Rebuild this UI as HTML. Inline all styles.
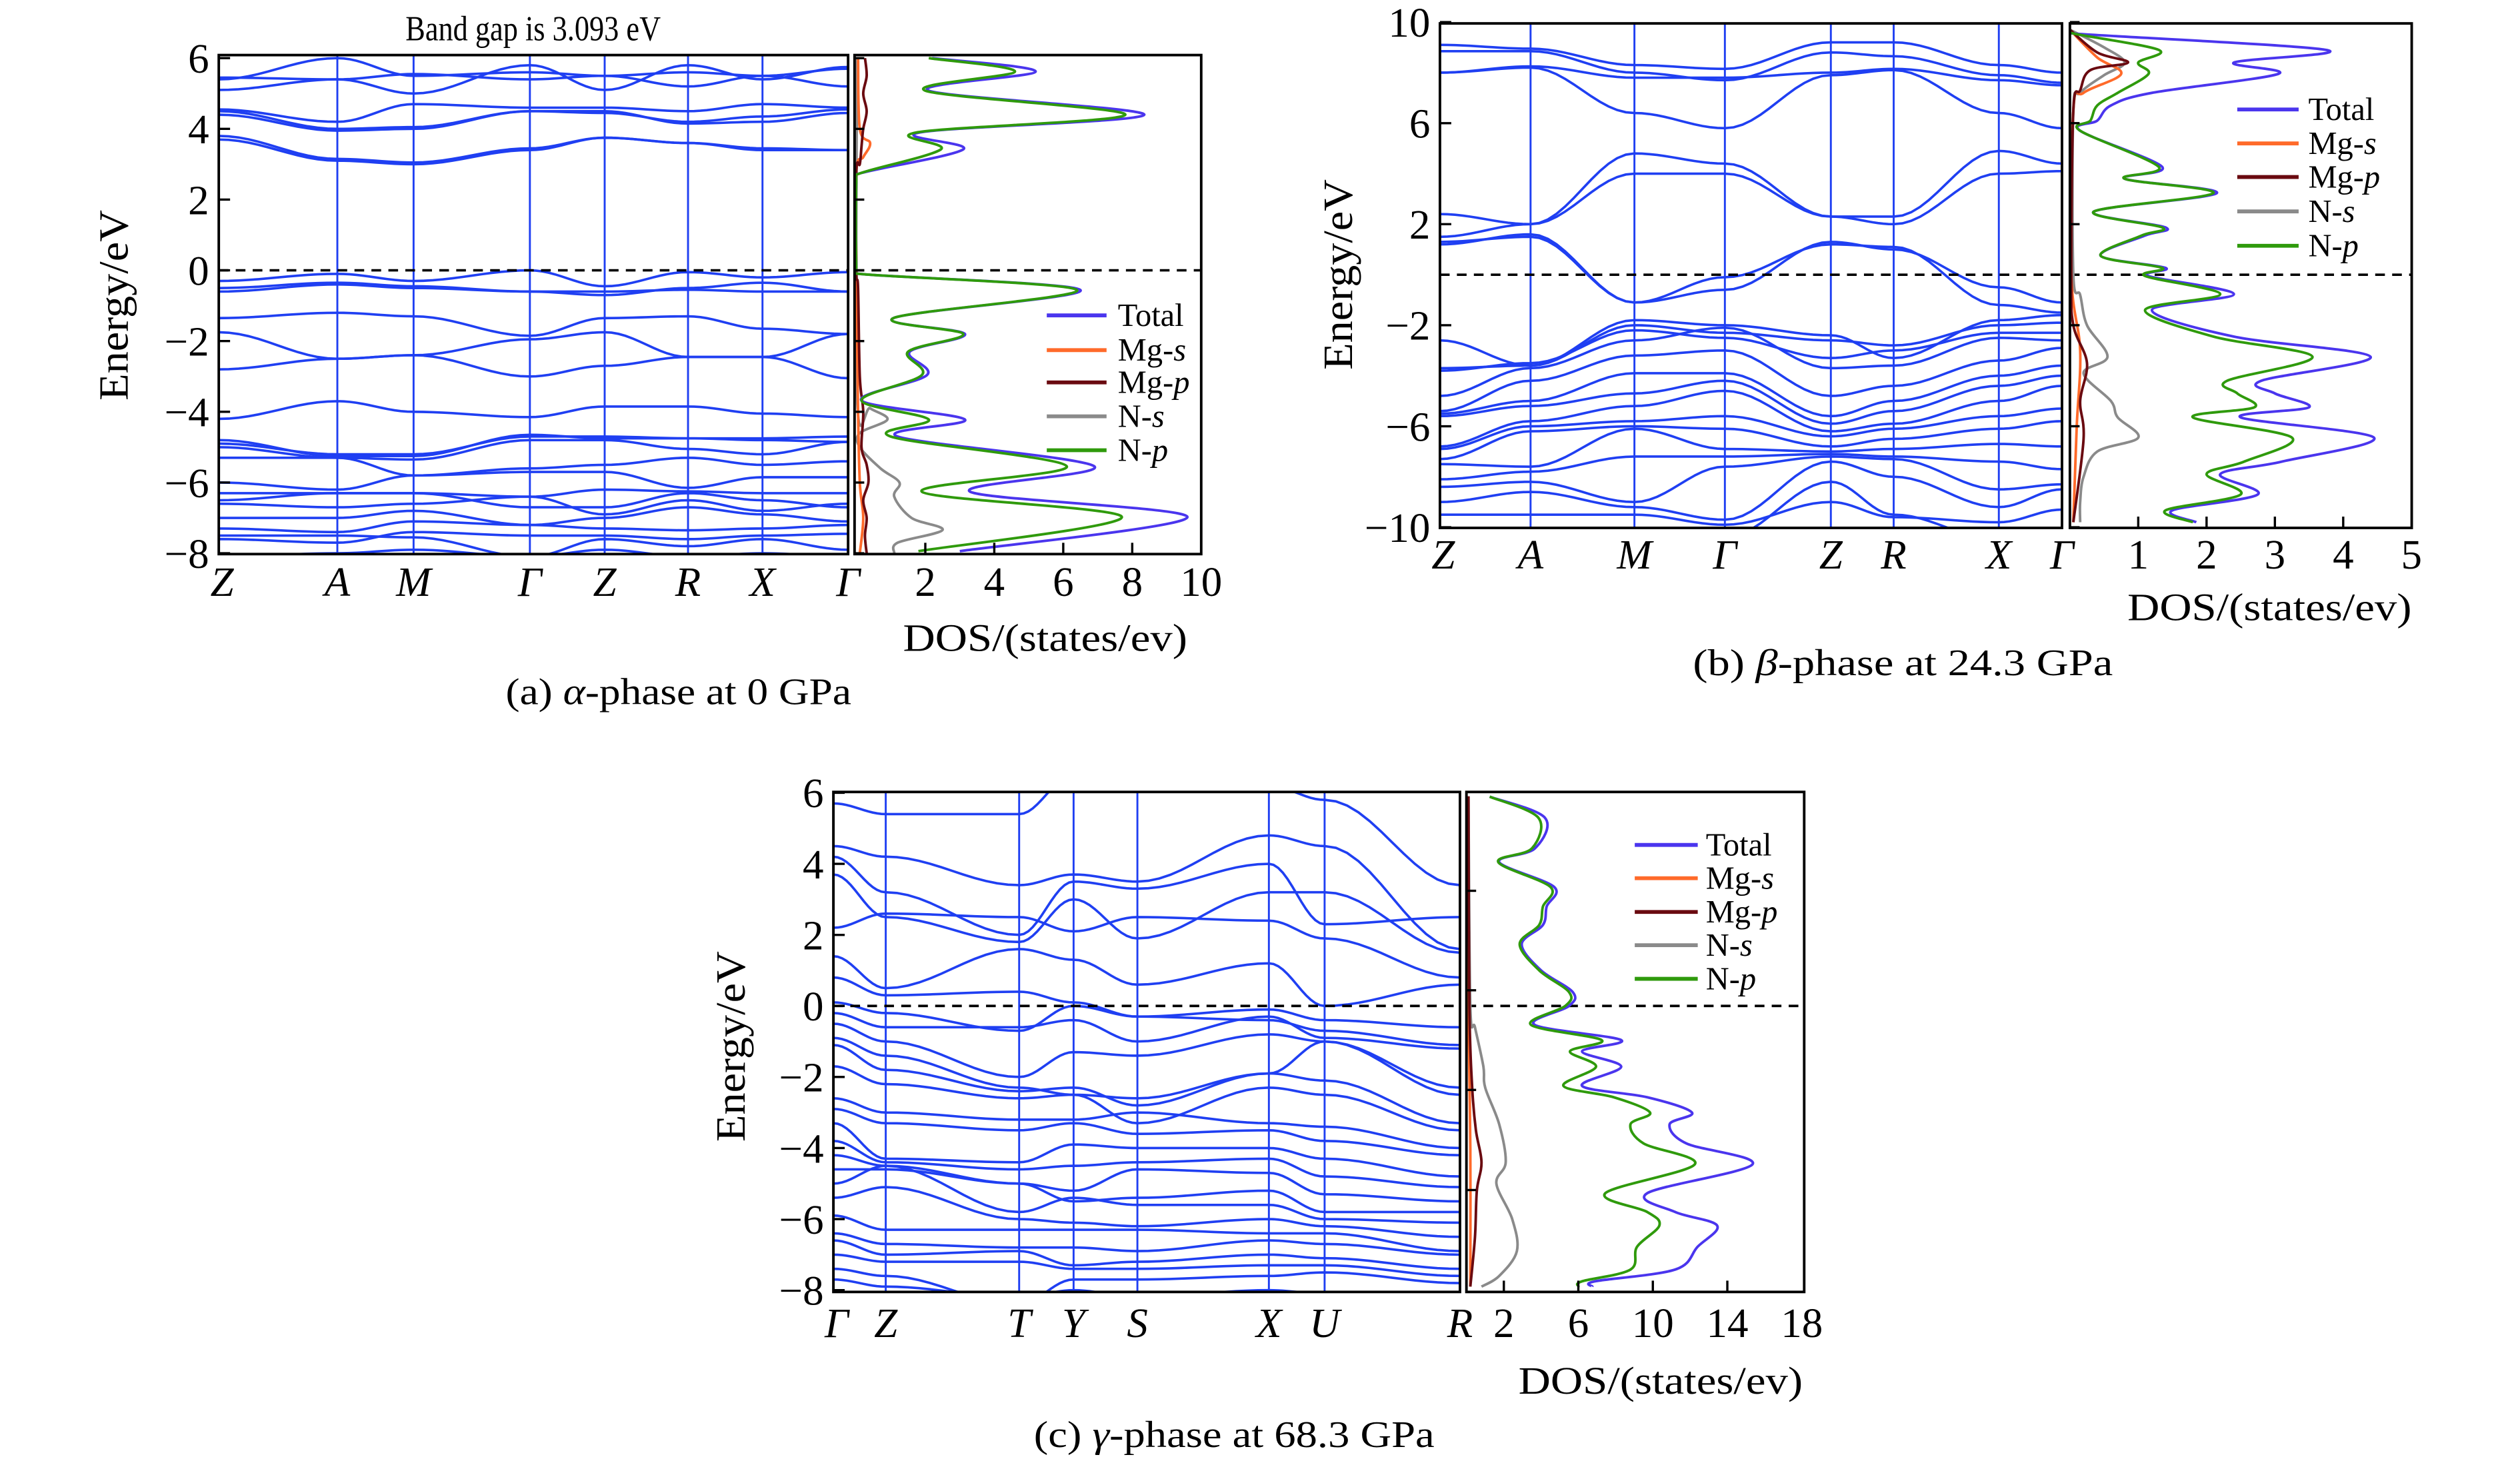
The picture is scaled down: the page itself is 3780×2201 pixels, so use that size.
<!DOCTYPE html>
<html><head><meta charset="utf-8">
<style>
html,body{margin:0;padding:0;background:#fff;}
svg{display:block;}
text{font-family:"Liberation Serif",serif;fill:#000;}
.it{font-style:italic;}
</style></head>
<body>
<svg id="fig" xmlns="http://www.w3.org/2000/svg" width="3780" height="2201" viewBox="0 0 1560 908.4">
<rect x="0" y="0" width="1560" height="908.4" fill="#fff"/>
<defs>
<clipPath id="clipA"><rect x="135.4" y="34.1" width="389.6" height="309"/></clipPath>
<clipPath id="clipAD"><rect x="529" y="34.1" width="214.6" height="309"/></clipPath>
<clipPath id="clipB"><rect x="891.4" y="14.5" width="385.1" height="312.4"/></clipPath>
<clipPath id="clipBD"><rect x="1281.4" y="14.5" width="211.6" height="312.4"/></clipPath>
<clipPath id="clipC"><rect x="515.9" y="490.4" width="387.9" height="309.6"/></clipPath>
<clipPath id="clipCD"><rect x="907.8" y="490.4" width="209.1" height="309.6"/></clipPath>
</defs>
<g id="layer-marks"></g>
<g id="layer-axes"></g>

<text x="330" y="25" font-size="22" text-anchor="middle" textLength="158" lengthAdjust="spacingAndGlyphs">Band gap is 3.093 eV</text>
<text transform="translate(79,189) rotate(-90)" font-size="26" text-anchor="middle" textLength="118" lengthAdjust="spacingAndGlyphs">Energy/eV</text>
<text transform="translate(837,170) rotate(-90)" font-size="26" text-anchor="middle" textLength="118" lengthAdjust="spacingAndGlyphs">Energy/eV</text>
<text transform="translate(461,648) rotate(-90)" font-size="26" text-anchor="middle" textLength="118" lengthAdjust="spacingAndGlyphs">Energy/eV</text>
<text x="647" y="403" font-size="24" text-anchor="middle" textLength="176" lengthAdjust="spacingAndGlyphs">DOS/(states/ev)</text>
<text x="1405" y="384" font-size="24" text-anchor="middle" textLength="176" lengthAdjust="spacingAndGlyphs">DOS/(states/ev)</text>
<text x="1028" y="863" font-size="24" text-anchor="middle" textLength="176" lengthAdjust="spacingAndGlyphs">DOS/(states/ev)</text>
<text x="420" y="436" font-size="23" text-anchor="middle" textLength="214" lengthAdjust="spacingAndGlyphs">(a) <tspan class="it">α</tspan>-phase at 0 GPa</text>
<text x="1178" y="418" font-size="23" text-anchor="middle" textLength="260" lengthAdjust="spacingAndGlyphs">(b) <tspan class="it">β</tspan>-phase at 24.3 GPa</text>
<text x="764" y="896" font-size="23" text-anchor="middle" textLength="248" lengthAdjust="spacingAndGlyphs">(c) <tspan class="it">γ</tspan>-phase at 68.3 GPa</text>
</svg>
<script>
// ---------------- DATA ----------------
const aKLabels = ["Z","A","M","Γ","Z","R","X","Γ"];
const aKPath = [135.4,208.8,256,328,374.3,425.9,472,525];
const aYTicks = [6,4,2,0,-2,-4,-6,-8];
const aDosTicks = [2,4,6,8,10];
const aBands = [
[3.7,3.1,3.0,3.4,3.75,3.6,3.4,3.4],[3.8,3.15,3.05,3.45,3.75,3.6,3.45,3.4],
[4.5,4.0,4.05,4.5,4.5,4.15,4.2,4.45],[4.55,4.2,4.7,4.6,4.6,4.5,4.7,4.6],
[4.4,3.95,4.0,4.5,4.45,4.2,4.35,4.55],[5.45,5.4,5.0,5.8,5.1,5.8,5.4,5.75],
[5.1,5.4,5.55,5.4,5.5,5.2,5.5,5.2],[5.4,6.0,5.5,5.6,5.5,5.6,5.5,5.7],
[-0.3,-0.1,-0.3,0,-0.45,-0.05,-0.2,-0.05],[-0.5,-0.35,-0.45,-0.6,-0.7,-0.5,-0.35,-0.6],
[-0.6,-0.4,-0.5,-0.6,-0.6,-0.55,-0.6,-0.6],[-1.35,-1.2,-1.3,-1.85,-1.35,-1.3,-1.65,-1.8],
[-1.75,-2.5,-2.4,-1.95,-1.75,-2.45,-2.45,-1.8],[-2.8,-2.5,-2.4,-3.0,-2.7,-2.45,-2.45,-3.05],
[-4.2,-3.7,-4.0,-4.15,-3.85,-3.85,-4.05,-4.15],[-4.8,-5.25,-5.25,-4.65,-4.75,-4.75,-4.75,-4.7],
[-4.9,-5.2,-5.2,-4.7,-4.7,-4.75,-4.8,-4.85],[-5.0,-5.3,-5.35,-4.8,-4.8,-5.05,-5.2,-4.85],
[-5.3,-5.3,-5.8,-5.6,-5.5,-5.3,-5.5,-5.4],[-6.0,-6.2,-5.8,-5.7,-5.7,-6.15,-5.85,-5.85],
[-6.3,-6.3,-6.3,-6.4,-6.2,-6.25,-6.3,-6.3],[-6.5,-6.3,-6.3,-6.7,-6.7,-6.3,-6.5,-6.7],
[-6.6,-6.7,-6.6,-6.4,-6.9,-6.5,-6.8,-6.6],[-7.0,-7.0,-6.8,-7.2,-7.0,-6.7,-6.9,-7.1],
[-7.3,-7.4,-7.1,-7.2,-7.3,-7.35,-7.3,-7.2],[-7.6,-7.7,-7.4,-7.5,-7.5,-7.6,-7.5,-7.45],
[-7.5,-7.5,-7.55,-8.1,-7.6,-7.8,-7.6,-7.9],[-8.1,-8.0,-7.9,-8.1,-7.9,-8.1,-8.0,-8.1]
];
const aTotalE = [6.0,5.62,5.08,4.4,3.9,3.42,2.74,2.5,0.1,-0.1,-0.56,-1.34,-1.8,-2.3,-2.96,-3.68,-4.22,-4.7,-5.54,-6.26,-6.98,-7.94];
const aTotalV = [2.2,5.2,2.1,8.35,1.85,3.1,0.1,0.0,0.0,0.1,6.5,1.1,3.15,1.55,2.05,0.15,3.15,1.2,6.9,3.3,9.6,3.0];
const aNpV    = [2.1,4.6,2.0,7.8,1.75,2.45,0.1,0.0,0.0,0.1,6.4,1.1,3.1,1.5,1.9,0.15,2.1,1.0,6.1,1.9,7.7,1.8];
const aNsE = [6,-3.6,-3.9,-4.22,-4.6,-5.0,-5.6,-6.0,-6.4,-7.0,-7.34,-7.7,-8];
const aNsV = [0.02,0.02,0.4,0.9,0.1,0.1,0.7,1.25,1.1,1.6,2.5,1.2,1.1];
const aMgsE = [6,4,3.6,3.2,2.8,0,-4,-6,-7,-8];
const aMgsV = [0.05,0.1,0.4,0.2,0,0,0.05,0.1,0.2,0.1];
const aMgpE = [6,5.5,5,4.5,4,3.5,3,2.8,0,-0.5,-3,-4,-5,-5.5,-6,-6.5,-7,-7.5,-8];
const aMgpV = [0.25,0.3,0.2,0.3,0.2,0.15,0.1,0,0,0.05,0.1,0.2,0.15,0.3,0.35,0.2,0.3,0.25,0.3];

const bKLabels = ["Z","A","M","Γ","Z","R","X","Γ"];
const bKPath = [891.4,947.5,1011.8,1067.8,1133.4,1172.3,1237.4,1276.5];
const bYTicks = [10,6,2,-2,-6,-10];
const bDosTicks = [1,2,3,4,5];
const bBands = [
[9.1,8.95,8.3,8.15,9.2,9.2,8.3,8.0],[8.85,8.85,8.0,7.7,8.8,8.65,7.9,7.6],
[8.0,8.25,7.8,7.8,8.0,8.15,7.7,7.5],[8.0,8.2,6.4,5.8,7.9,8.1,6.4,5.8],
[2.4,2.0,4.8,4.4,2.3,2.3,4.9,4.4],[1.5,2.0,4.0,4.0,2.3,2.0,4.0,4.1],
[1.2,1.6,-1.1,-0.6,1.3,1.0,-0.5,-1.1],[1.3,1.5,-1.1,-0.1,1.2,1.1,-1.2,-1.5],
[-2.6,-3.6,-1.8,-2.0,-2.4,-3.3,-1.8,-1.6],[-3.7,-3.6,-2.0,-2.3,-2.6,-2.8,-2.0,-1.9],
[-3.8,-3.5,-2.2,-2.5,-3.3,-3.0,-2.3,-2.3],[-4.8,-3.7,-2.6,-2.1,-3.7,-3.6,-2.5,-2.6],
[-5.4,-4.2,-3.2,-3.0,-4.8,-4.4,-3.4,-2.9],[-5.5,-5.0,-3.9,-3.9,-5.6,-5.0,-4.0,-3.6],
[-5.6,-5.2,-4.7,-4.2,-5.9,-5.4,-4.4,-4.0],[-6.8,-5.8,-5.2,-4.6,-6.2,-5.9,-5.0,-4.4],
[-6.9,-6.0,-5.8,-5.6,-6.4,-6.1,-5.6,-5.3],[-7.3,-6.2,-6.0,-6.1,-6.8,-6.5,-6.1,-5.8],
[-7.5,-7.6,-6.1,-6.9,-7.0,-6.9,-6.7,-6.8],[-8.1,-7.8,-7.2,-7.2,-7.1,-7.2,-7.4,-7.7],
[-8.4,-8.2,-9.0,-7.6,-7.2,-7.3,-8.5,-8.3],[-9.0,-8.6,-9.2,-9.7,-7.4,-8.0,-9.2,-8.5],
[-9.5,-9.5,-9.5,-9.9,-9.0,-9.6,-9.8,-9.3],[-10.3,-10.2,-10.5,-10.4,-8.2,-9.5,-10.5,-10.1]
];
const bTotalE = [9.7,9.55,8.9,8.4,7.95,7.2,6.7,6.1,5.7,4.27,3.8,3.23,2.5,1.87,1.55,0.75,0.27,-0.05,-0.77,-1.4,-2.45,-3.25,-4.2,-4.7,-5.25,-5.65,-6.45,-7.4,-7.9,-8.7,-9.33,-9.8];
const bTotalV = [0,0.05,3.75,2.4,3.05,1.2,0.6,0.4,0.15,1.35,0.8,2.15,0.35,1.4,1.1,0.45,1.4,1.15,2.4,1.2,2.4,4.4,2.8,3.0,3.5,2.5,4.45,3.1,2.2,2.75,1.5,1.85];
const bNpV    = [0,0.05,1.3,1.0,1.15,0.7,0.4,0.3,0.15,1.3,0.8,2.1,0.35,1.35,1.05,0.45,1.35,1.1,2.2,1.1,2.1,3.55,2.3,2.45,2.7,1.8,3.25,2.55,2.0,2.5,1.4,1.8];
const bNsE = [9.7,9.0,8.4,7.9,7.2,6.5,0,-0.8,-2.0,-3.25,-3.9,-5.0,-5.65,-6.45,-7.0,-8,-9,-9.8];
const bNsV = [0,0.5,0.8,0.5,0.15,0.05,0.05,0.15,0.25,0.55,0.2,0.6,0.7,1.0,0.4,0.2,0.15,0.15];
const bMgsE = [9.7,8.6,7.95,7.2,6.5,0,-3,-6,-9.8];
const bMgsV = [0,0.4,0.75,0.2,0.05,0.02,0.15,0.1,0.05];
const bMgpE = [9.7,8.8,8.4,8.1,7.3,6.5,0,-2,-3.5,-5,-6.5,-9.8];
const bMgpV = [0,0.4,0.85,0.3,0.15,0.05,0.02,0.05,0.25,0.15,0.2,0.05];

const cKLabels = ["Γ","Z","T","Y","S","X","U","R"];
const cKPath = [515.9,548.3,630.9,664.6,704.1,785.5,820,903.8];
const cYTicks = [6,4,2,0,-2,-4,-6,-8];
const cDosTicks = [2,6,10,14,18];
const cBands = [
[5.7,5.4,5.4,6.5,6.6,6.2,5.8,3.4],[4.5,4.2,3.4,3.7,3.5,4.8,4.5,1.6],
[4.2,3.2,2.0,3.5,3.3,4.0,2.3,2.5],[3.7,2.5,1.8,3.0,1.9,3.2,3.2,1.5],
[2.2,2.6,2.5,2.1,2.5,2.4,1.9,0.8],[1.4,0.5,1.6,1.3,0.6,1.2,0.0,0.6],
[0.8,0.3,0.4,0.1,-0.3,-0.1,-0.4,-0.6],[0.1,-0.2,-0.7,0.0,-0.3,-0.4,-0.7,-1.1],
[-0.2,-0.6,-0.6,-0.4,-1.0,-0.3,-0.9,-1.2],[-0.5,-1.0,-2.0,-1.3,-1.4,-0.8,-1.0,-2.3],
[-0.9,-1.4,-2.3,-2.5,-2.6,-1.9,-1.0,-2.5],[-1.1,-1.8,-2.4,-2.3,-2.8,-1.9,-2.1,-3.3],
[-1.7,-2.2,-2.6,-2.5,-3.3,-2.3,-2.5,-3.5],[-2.6,-3.0,-3.2,-3.2,-3.0,-3.3,-3.4,-4.0],
[-2.9,-3.3,-3.5,-3.3,-3.6,-3.5,-3.8,-4.2],[-3.3,-4.3,-4.4,-3.9,-4.0,-4.0,-4.3,-4.8],
[-3.8,-4.4,-4.6,-4.5,-4.4,-4.3,-4.8,-5.1],[-4.2,-4.5,-5.0,-5.2,-4.6,-4.7,-5.3,-5.5],
[-4.6,-4.6,-5.0,-5.5,-5.4,-5.2,-5.8,-5.8],[-5.0,-4.5,-5.8,-5.4,-5.6,-5.6,-6.0,-6.1],
[-5.4,-5.1,-6.0,-6.1,-6.2,-6.0,-6.2,-6.5],[-5.9,-6.3,-6.3,-6.3,-6.3,-6.4,-6.4,-6.9],
[-6.4,-6.7,-6.8,-6.8,-6.9,-6.6,-6.7,-7.0],[-6.6,-7.0,-6.9,-7.3,-7.2,-7.0,-7.1,-7.4],
[-7.0,-7.2,-7.2,-7.4,-7.4,-7.3,-7.3,-7.6],[-7.4,-7.6,-8.4,-7.7,-7.7,-7.6,-7.5,-7.8],
[-7.7,-7.9,-8.2,-8.0,-8.2,-8.0,-8.1,-8.3]
];
const cTotalE = [5.89,5.3,4.43,4.05,3.35,2.8,2.28,1.74,1.0,0.39,0,-0.53,-0.96,-1.28,-1.71,-2.25,-2.57,-3.0,-3.33,-3.87,-4.46,-5.27,-5.8,-6.18,-6.78,-7.42,-7.75,-7.9];
const cTotalV = [1.24,4.2,3.66,1.75,4.7,4.3,4.1,2.96,4.0,5.7,5.5,3.65,8.3,6.2,8.3,6.2,9.7,12.1,10.9,11.8,15.35,9.7,11.2,13.45,12.4,11.2,6.9,6.75];
const cNpV    = [1.24,3.85,3.5,1.7,4.5,4.1,3.9,2.85,3.9,5.5,5.3,3.45,7.25,5.55,6.95,5.2,7.9,9.85,8.8,9.5,12.25,7.45,9.7,10.35,9.15,8.8,6.2,6.0];
const cNsE = [5.9,0,-0.6,-1.7,-2.3,-3.33,-4.4,-5.0,-6.0,-6.9,-7.6,-7.9];
const cNsV = [0.1,0.2,0.45,0.9,1.0,1.75,2.1,1.6,2.45,2.7,1.75,0.8];
const cMgsE = [5.9,0,-4,-7.9];
const cMgsV = [0.05,0.1,0.2,0.2];
const cMgpE = [5.9,0,-2.3,-3.5,-4.4,-5.2,-6.5,-7.9];
const cMgpV = [0.1,0.15,0.3,0.5,0.8,0.55,0.45,0.2];
const cDosTickY = [551.6,613.2,674.9,736.9];

const legendNames = ["Total","Mg-","Mg-","N-","N-"];
const legendItal = ["","s","p","s","p"];

// ---------------- DRAWING ----------------
const NS = "http://www.w3.org/2000/svg";
const marks = document.getElementById("layer-marks");
const axes = document.getElementById("layer-axes");
const COL = {band:"#1f3ff2", total:"#4a35ee", mgs:"#ff6a2a", mgp:"#6a0a10", ns:"#8a8a8a", np:"#2f9a0c"};
function mk(tag, attrs, parent){const e=document.createElementNS(NS,tag);for(const k in attrs)e.setAttribute(k,attrs[k]);(parent||marks).appendChild(e);return e;}

function smoothPath(pts){
  let d="M"+pts[0][0].toFixed(2)+","+pts[0][1].toFixed(2);
  for(let i=0;i<pts.length-1;i++){
    const p0=pts[Math.max(0,i-1)],p1=pts[i],p2=pts[i+1],p3=pts[Math.min(pts.length-1,i+2)];
    const c1=[p1[0]+(p2[0]-p0[0])/6,p1[1]+(p2[1]-p0[1])/6];
    const c2=[p2[0]-(p3[0]-p1[0])/6,p2[1]-(p3[1]-p1[1])/6];
    d+=" C"+c1[0].toFixed(2)+","+c1[1].toFixed(2)+" "+c2[0].toFixed(2)+","+c2[1].toFixed(2)+" "+p2[0].toFixed(2)+","+p2[1].toFixed(2);
  }
  return d;
}

function panel(P){
  const yE = e => P.y0 - P.sy*e;
  const xD = v => P.dx0 + P.sdx*v;
  const g = mk("g",{"clip-path":"url(#"+P.clip+")"});
  
  
  for(let i=1;i<P.kpath.length-1;i++){
    const l=mk("line",{x1:P.kpath[i],x2:P.kpath[i],y1:P.top,y2:P.bot,stroke:COL.band,"stroke-width":1.2},g);
    
    
  }
  P.bands.forEach((b,bi)=>{
    let d="";
    for(let s=0;s<b.length-1;s++){
      const xa=P.kpath[s],xb=P.kpath[s+1];
      for(let t=0;t<=12;t++){
        const f=t/12, w=(1-Math.cos(Math.PI*f))/2;
        const x=xa+(xb-xa)*f, y=yE(b[s]+(b[s+1]-b[s])*w);
        d+=(d===""?"M":"L")+x.toFixed(2)+","+y.toFixed(2);
      }
    }
    const p=mk("path",{d:d,fill:"none",stroke:COL.band,"stroke-width":1.5},g);
    
    
  });
  const f1=mk("line",{x1:P.left,x2:P.right,y1:yE(0),y2:yE(0),stroke:"#000","stroke-width":1.5,"stroke-dasharray":"6,4.5"});
  
  
  const f2=mk("line",{x1:P.dleft,x2:P.dright,y1:yE(0),y2:yE(0),stroke:"#000","stroke-width":1.5,"stroke-dasharray":"6,4.5"});
  
  
  const gd=mk("g",{"clip-path":"url(#"+P.dclip+")"});
  
  
  P.dos.forEach(s=>{
    const pts=s.E.map((e,i)=>[xD(s.V[i]),yE(e)]);
    const p=mk("path",{d:smoothPath(pts),fill:"none",stroke:s.col,"stroke-width":1.6},gd);
    
    
  });
  const r1=mk("rect",{x:P.left,y:P.top,width:P.right-P.left,height:P.bot-P.top,fill:"none",stroke:"#000","stroke-width":1.6},axes);
  
  
  const r2=mk("rect",{x:P.dleft,y:P.top,width:P.dright-P.dleft,height:P.bot-P.top,fill:"none",stroke:"#000","stroke-width":1.6},axes);
  
  
  P.yticks.forEach(v=>{
    const y=yE(v);
    const t=mk("line",{x1:P.left,x2:P.left+7,y1:y,y2:y,stroke:"#000","stroke-width":1.4},axes);
    
    
    const tx=mk("text",{x:P.left-6,y:y+9,"font-size":26,"text-anchor":"end"},axes);
    tx.textContent = v<0 ? "\u2212"+Math.abs(v) : String(v);
    
    
  });
  (P.dtickY || P.yticks.map(yE)).forEach(y=>{
    const t=mk("line",{x1:P.dleft,x2:P.dleft+6,y1:y,y2:y,stroke:"#000","stroke-width":1.4},axes);
    
    
  });
  P.klabels.forEach((k,i)=>{
    const t=mk("text",{x:P.kpath[i]+(i===0?2:0),y:P.kbase,"font-size":26,"text-anchor":"middle",class:"it"},axes);
    t.textContent=k;
    
    
  });
  P.dticks.forEach(v=>{
    const x=xD(v);
    if(v!==P.dticks[P.dticks.length-1]){
      const t=mk("line",{x1:x,x2:x,y1:P.bot,y2:P.bot-7,stroke:"#000","stroke-width":1.4},axes);
      
      
    }
    const tx=mk("text",{x:x,y:P.kbase,"font-size":26,"text-anchor":"middle"},axes);
    tx.textContent=String(v);
    
    
  });
  const cols=[COL.total,COL.mgs,COL.mgp,COL.ns,COL.np];
  const lg=mk("g",{},axes);
  
  
  legendNames.forEach((n,i)=>{
    const y=P.legY[i];
    const l=mk("line",{x1:P.legX[0],x2:P.legX[1],y1:y,y2:y,stroke:cols[i],"stroke-width":2.4},lg);
    
    
    const t=mk("text",{x:P.legX[2],y:y+6.5,"font-size":20},lg);
    t.textContent=n;
    if(legendItal[i]){const ts=mk("tspan",{class:"it"},t);ts.textContent=legendItal[i];}
    
    
  });
}

panel({id:"alpha",clip:"clipA",dclip:"clipAD",left:135.4,right:525,dleft:529,dright:743.6,top:34.1,bot:343.1,
  y0:167.4,sy:21.9,dx0:530.1,sdx:21.35,kpath:aKPath,klabels:aKLabels,bands:aBands,yticks:aYTicks,dticks:aDosTicks,kbase:369,
  legX:[648,685,692],legY:[195.3,216.8,236.8,257.8,278.8],
  dos:[{name:"n-s",E:aNsE,V:aNsV,col:COL.ns},{name:"mg-s",E:aMgsE,V:aMgsV,col:COL.mgs},{name:"mg-p",E:aMgpE,V:aMgpV,col:COL.mgp},
       {name:"total",E:aTotalE,V:aTotalV,col:COL.total},{name:"n-p",E:aTotalE,V:aNpV,col:COL.np}]});
panel({id:"beta",clip:"clipB",dclip:"clipBD",left:891.4,right:1276.5,dleft:1281.4,dright:1493,top:14.5,bot:326.9,
  y0:170.1,sy:15.64,dx0:1281.4,sdx:42.3,kpath:bKPath,klabels:bKLabels,bands:bBands,yticks:bYTicks,dticks:bDosTicks,kbase:352,
  legX:[1385,1423,1429],legY:[67.8,88.8,109.6,130.9,152.2],
  dos:[{name:"n-s",E:bNsE,V:bNsV,col:COL.ns},{name:"mg-s",E:bMgsE,V:bMgsV,col:COL.mgs},{name:"mg-p",E:bMgpE,V:bMgpV,col:COL.mgp},
       {name:"total",E:bTotalE,V:bTotalV,col:COL.total},{name:"n-p",E:bTotalE,V:bNpV,col:COL.np}]});
panel({id:"gamma",clip:"clipC",dclip:"clipCD",left:515.9,right:903.8,dleft:907.8,dright:1116.9,top:490.4,bot:800,
  y0:622.9,sy:22.0,dx0:907.9,sdx:11.53,kpath:cKPath,klabels:cKLabels,bands:cBands,yticks:cYTicks,dticks:cDosTicks,kbase:828,
  dtickY:cDosTickY,legX:[1012,1051,1056],legY:[523.2,543.8,564.7,585.3,606.1],
  dos:[{name:"n-s",E:cNsE,V:cNsV,col:COL.ns},{name:"mg-s",E:cMgsE,V:cMgsV,col:COL.mgs},{name:"mg-p",E:cMgpE,V:cMgpV,col:COL.mgp},
       {name:"total",E:cTotalE,V:cTotalV,col:COL.total},{name:"n-p",E:cTotalE,V:cNpV,col:COL.np}]});
</script>
</body></html>
